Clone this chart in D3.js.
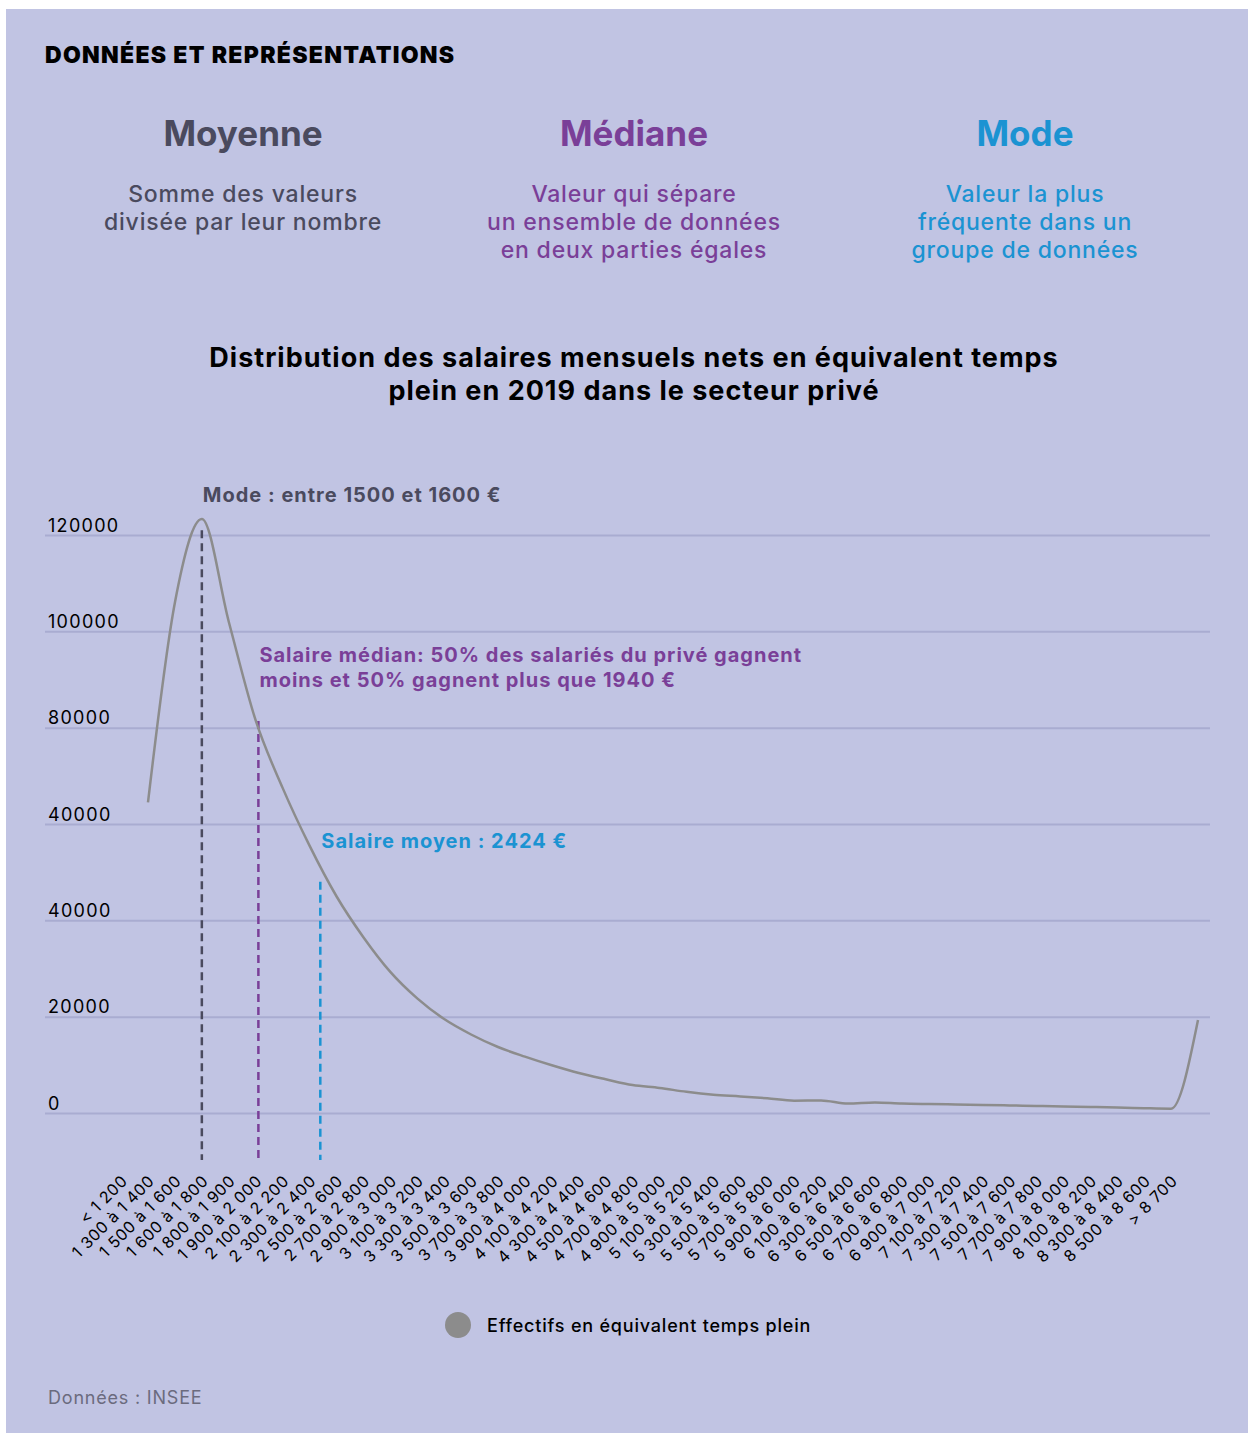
<!DOCTYPE html>
<html lang="fr">
<head>
<meta charset="utf-8">
<title>Distribution des salaires</title>
<script src="https://cdn.jsdelivr.net/npm/d3@7"></script>
<style>
  body { margin: 0; background: #fff; }
  svg { display: block; font-family: "Inter", "Noto Sans", sans-serif; }
</style>
</head>
<body>
<div id="chart"></div>
<script>
// salary brackets (x axis)
var categories = [
  "< 1 200", "1 300 à 1 400", "1 500 à 1 600", "1 600 à 1 800", "1 800 à 1 900",
  "1 900 à 2 000", "2 100 à 2 200", "2 300 à 2 400", "2 500 à 2 600", "2 700 à 2 800",
  "2 900 à 3 000", "3 100 à 3 200", "3 300 à 3 400", "3 500 à 3 600", "3 700 à 3 800",
  "3 900 à 4 000", "4 100 à 4 200", "4 300 à 4 400", "4 500 à 4 600", "4 700 à 4 800",
  "4 900 à 5 000", "5 100 à 5 200", "5 300 à 5 400", "5 500 à 5 600", "5 700 à 5 800",
  "5 900 à 6 000", "6 100 à 6 200", "6 300 à 6 400", "6 500 à 6 600", "6 700 à 6 800",
  "6 900 à 7 000", "7 100 à 7 200", "7 300 à 7 400", "7 500 à 7 600", "7 700 à 7 800",
  "7 900 à 8 000", "8 100 à 8 200", "8 300 à 8 400", "8 500 à 8 600", "> 8 700"
];

// full-time equivalent headcount per bracket
var effectifs = [
  64500, 106000, 123300, 102000, 81500, 67500, 55500, 45000, 36500, 29300,
  23800, 19500, 16300, 13700, 11700, 9900, 8300, 7000, 5800, 5200,
  4400, 3800, 3450, 3050, 2550, 2600, 1950, 2200, 1950, 1850,
  1780, 1680, 1580, 1470, 1370, 1260, 1150, 1000, 900, 19300
];

// y ticks, labels kept as printed on the original
var yTickValues = [0, 20000, 40000, 60000, 80000, 100000, 120000];
var yTickLabels = ["0", "20000", "40000", "40000", "80000", "100000", "120000"];

// mode / median / mean markers (position in bracket index, top of the dashed line)
var markerNames = ["mode", "median", "mean"];
var markerIndex = [2, 4.1, 6.4];
var markerTop = [121000, 81400, 48000];
var markerText = [
  ["Mode : entre 1500 et 1600 €"],
  ["Salaire médian: 50% des salariés du privé gagnent", "moins et 50% gagnent plus que 1940 €"],
  ["Salaire moyen : 2424 €"]
];

var headerTitles = ["Moyenne", "Médiane", "Mode"];
var headerTexts = [
  ["Somme des valeurs", "divisée par leur nombre"],
  ["Valeur qui sépare", "un ensemble de données", "en deux parties égales"],
  ["Valeur la plus", "fréquente dans un", "groupe de données"]
];

var colGrey = "#4a4a5e", colPurple = "#7a3f98", colBlue = "#1b93d2";
var headerColors = [colGrey, colPurple, colBlue];
var markerColors = [colGrey, colPurple, colBlue];
var markerGap = [28, 34, 34]; // space between line top and label baseline

var W = 1250, H = 1435;

var svg = d3.select("#chart").append("svg")
    .attr("width", W)
    .attr("height", H);

// panel background
svg.append("rect")
    .attr("x", 6).attr("y", 9)
    .attr("width", 1242).attr("height", 1424)
    .attr("fill", "#c1c4e3");

svg.append("text")
    .attr("x", 45).attr("y", 63)
    .style("font-size", "23px")
    .style("font-weight", 900)
    .style("letter-spacing", "1.3px")
    .attr("fill", "#000")
    .text("DONNÉES ET REPRÉSENTATIONS");

// three definition columns
var colX = [243, 634, 1025];
var cols = svg.selectAll(".col")
    .data(headerTitles)
    .enter().append("g")
    .attr("class", "col")
    .attr("transform", function(d, i) { return "translate(" + colX[i] + ",0)"; });

cols.append("text")
    .attr("y", 146)
    .attr("text-anchor", "middle")
    .style("font-size", "35px")
    .style("font-weight", 700)
    .attr("fill", function(d, i) { return headerColors[i]; })
    .text(function(d) { return d; });

cols.each(function(d, i) {
    d3.select(this).selectAll(".desc")
        .data(headerTexts[i])
        .enter().append("text")
        .attr("class", "desc")
        .attr("y", function(t, j) { return 202 + j * 28; })
        .attr("text-anchor", "middle")
        .style("font-size", "23px")
        .style("font-weight", 500)
        .style("letter-spacing", "0.8px")
        .attr("fill", headerColors[i])
        .text(function(t) { return t; });
});

// chart title
svg.selectAll(".title")
    .data(["Distribution des salaires mensuels nets en équivalent temps",
           "plein en 2019 dans le secteur privé"])
    .enter().append("text")
    .attr("class", "title")
    .attr("x", 634)
    .attr("y", function(d, i) { return 367 + i * 33; })
    .attr("text-anchor", "middle")
    .style("font-size", "27px")
    .style("font-weight", 700)
    .style("letter-spacing", "1px")
    .attr("fill", "#000")
    .text(function(d) { return d; });

// scales
var x = d3.scaleLinear().domain([0, categories.length - 1]).range([148, 1198]);
var y = d3.scaleLinear().domain([0, 120000]).range([1113, 535]);

// gridlines + y labels
var yAxis = d3.axisRight(y)
    .tickValues(yTickValues)
    .tickSize(1165)
    .tickFormat(function(d, i) { return yTickLabels[i]; });

var gy = svg.append("g")
    .attr("transform", "translate(45,0)")
    .call(yAxis);
gy.select(".domain").remove();
gy.selectAll(".tick line")
    .attr("stroke", "#a9acd1")
    .attr("stroke-width", 2);
gy.selectAll(".tick text")
    .attr("x", 3)
    .attr("dy", -4)
    .attr("text-anchor", "start")
    .attr("fill", "#000")
    .style("font-family", "Inter, sans-serif")
    .style("font-size", "18px")
    .style("letter-spacing", "1.3px");

// x labels, rotated
var xBand = d3.scalePoint().domain(categories).range([148, 1198]);
var xAxis = d3.axisBottom(xBand).tickSize(0);
var gx = svg.append("g")
    .attr("transform", "translate(0,1182)")
    .call(xAxis);
gx.select(".domain").remove();
gx.selectAll(".tick text")
    .attr("x", 0).attr("y", 0).attr("dy", 0)
    .attr("text-anchor", "end")
    .attr("transform", "translate(-20,0) rotate(-45)")
    .attr("fill", "#000")
    .style("font-family", "Inter, sans-serif")
    .style("font-size", "16px")
    .style("letter-spacing", "0.6px");

// dashed marker lines
var markers = svg.selectAll(".marker")
    .data(markerNames)
    .enter().append("g")
    .attr("class", "marker");

markers.append("line")
    .attr("x1", function(d, i) { return x(markerIndex[i]); })
    .attr("x2", function(d, i) { return x(markerIndex[i]); })
    .attr("y1", function(d, i) { return y(markerTop[i]); })
    .attr("y2", y(0) + 47)
    .attr("stroke", function(d, i) { return markerColors[i]; })
    .attr("stroke-width", 2.5)
    .attr("stroke-dasharray", "8,5");

markers.each(function(d, i) {
    var top = y(markerTop[i]);
    var lines = markerText[i];
    d3.select(this).selectAll("text")
        .data(lines)
        .enter().append("text")
        .attr("x", x(markerIndex[i]) + 1)
        .attr("y", function(t, j) { return top - markerGap[i] - (lines.length - 1 - j) * 25; })
        .style("font-size", "20px")
        .style("font-weight", 700)
        .style("letter-spacing", "1px")
        .attr("fill", markerColors[i])
        .text(function(t) { return t; });
});

// distribution curve
var line = d3.line()
    .x(function(d, i) { return x(i); })
    .y(function(d) { return y(d); })
    .curve(d3.curveMonotoneX);

svg.append("path")
    .datum(effectifs)
    .attr("fill", "none")
    .attr("stroke", "#8c8c8c")
    .attr("stroke-width", 2.5)
    .attr("d", line);

// legend
svg.append("circle")
    .attr("cx", 458).attr("cy", 1325).attr("r", 13)
    .attr("fill", "#8c8c8c");
svg.append("text")
    .attr("x", 487).attr("y", 1332)
    .style("font-size", "18px")
    .style("font-weight", 500)
    .style("letter-spacing", "0.8px")
    .attr("fill", "#000")
    .text("Effectifs en équivalent temps plein");

// source
svg.append("text")
    .attr("x", 48).attr("y", 1404)
    .style("font-size", "18px")
    .style("letter-spacing", "0.8px")
    .attr("fill", "#6b6b7e")
    .text("Données : INSEE");
</script>
</body>
</html>
